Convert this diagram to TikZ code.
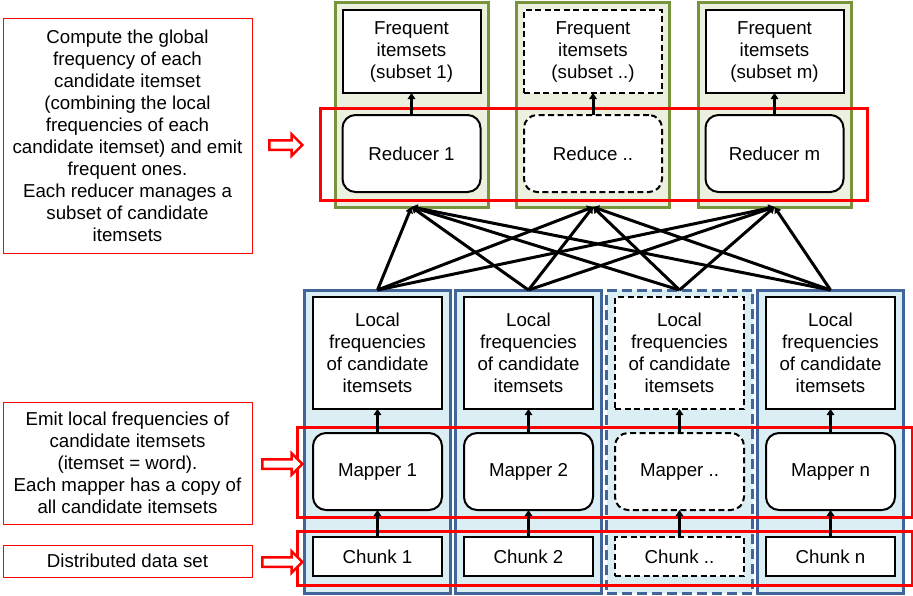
\documentclass[tikz,border=0pt]{standalone}
\usepackage{fontspec}
\setmainfont{Liberation Sans}
\usetikzlibrary{arrows.meta,shapes.arrows}
\definecolor{olivecol}{HTML}{77933C}
\definecolor{olivefill}{HTML}{EBF1DE}
\definecolor{bluecol}{HTML}{41649A}
\definecolor{bluefill}{HTML}{DBEEF4}
\tikzset{
  rcolumn/.style={draw=olivecol,fill=olivefill,line width=3pt,minimum width=153pt,minimum height=205pt,inner sep=0pt,outer sep=0pt},
  mcolumn/.style={draw=bluecol,fill=bluefill,line width=3pt,minimum width=146pt,minimum height=303pt,inner sep=0pt,outer sep=0pt},
  mdash/.style={dash pattern=on 10pt off 5pt},
  box/.style={draw,line width=2pt,fill=white,align=center,inner sep=0pt,outer sep=0pt},
  boxdash/.style={dash pattern=on 6pt off 3.5pt},
  plain/.style={solid},
  redframe/.style={draw=red,line width=3pt},
  note/.style={draw=red,line width=1pt,fill=white,align=center,minimum width=249pt,inner sep=0pt},
  hollow/.style={single arrow,draw=red,line width=2.5pt,fill=white,inner sep=3.5pt,single arrow head extend=6pt,minimum height=#1,shape border rotate=0},
  link/.style={line width=3pt,-{Triangle[length=6pt,width=7.5pt]}}
}
\begin{document}
\begin{tikzpicture}[x=1pt,y=-1pt,font=\fontsize{18.7}{22}\selectfont]
\useasboundingbox (0,0) rectangle (913,595);
\foreach \x [count=\i] in {411.5,593,774.5}
  \node[rcolumn] (rcol\i) at (\x,104.5) {};
\foreach \x/\d [count=\i] in {377.5/plain,528.5/plain,679.5/mdash,830.5/plain}
  \node[mcolumn,\d] (mcol\i) at (\x,441.5) {};

\draw[redframe] (320,108) rectangle (867,200);
\draw[redframe] (297,427) rectangle (912,517);
\draw[redframe] (297,531) rectangle (912,585);

\foreach \x/\d/\s/\r [count=\i] in {411.5/plain/1/Reducer 1,593/boxdash/../Reduce ..,774.5/plain/m/Reducer m}{
  \node[box,\d,minimum width=138pt,minimum height=83pt] (freq\i) at (\x,51.5) {Frequent\\itemsets\\(subset \s)};
  \node[box,\d,rounded corners=13pt,minimum width=138pt,minimum height=77pt] (red\i) at (\x,153.5) {\r};
  \draw[link] (red\i.north) -- (freq\i.south);
}
\foreach \x/\d/\s [count=\i] in {377.5/plain/1,528.5/plain/2,679.5/boxdash/..,830.5/plain/n}{
  \node[box,\d,minimum width=129pt,minimum height=112pt] (loc\i) at (\x,353) {Local\\frequencies\\of candidate\\itemsets};
  \node[box,\d,rounded corners=13pt,minimum width=129pt,minimum height=77pt] (map\i) at (\x,471.5) {Mapper \s};
  \node[box,\d,minimum width=129pt,minimum height=39pt] (chunk\i) at (\x,556.5) {Chunk \s};
  \draw[link] (map\i.north) -- (loc\i.south);
  \draw[link] (chunk\i.north) -- (map\i.south);
}
\foreach \i in {1,...,4}
  \foreach \j in {1,2,3}
    \draw[link] (mcol\i.north) -- (rcol\j.south);

\node[note,minimum height=235pt] (note1) at (127.5,135.5) {Compute the global\\frequency of each\\candidate itemset\\(combining the local\\frequencies of each\\candidate itemset) and emit\\frequent ones.\\Each reducer manages a\\subset of candidate\\itemsets};
\node[note,minimum height=122pt] (note2) at (127.5,463) {Emit local frequencies of\\candidate itemsets\\(itemset = word).\\Each mapper has a copy of\\all candidate itemsets};
\node[note,minimum height=32pt] (note3) at (127.5,561) {Distributed data set};

\node[hollow=33pt] (ha1) at (283.5,145) {};
\node[hollow=40pt] (ha2) at (280,464) {};
\node[hollow=40pt] (ha3) at (280,562) {};
\end{tikzpicture}
\end{document}
